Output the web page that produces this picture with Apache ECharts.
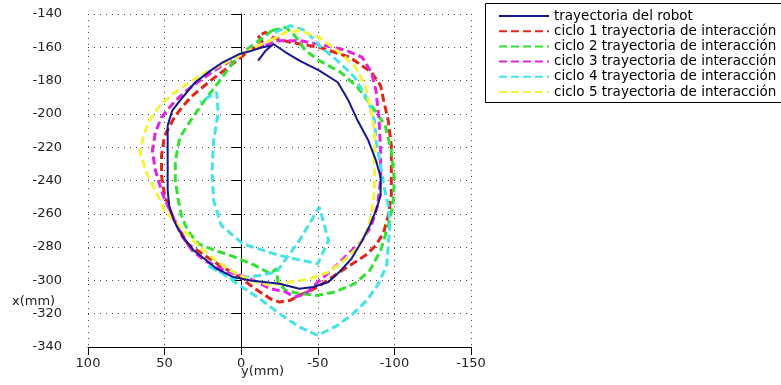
<!DOCTYPE html>
<html>
<head>
<meta charset="utf-8">
<script src="https://cdn.jsdelivr.net/npm/echarts@6/dist/echarts.min.js"></script>
<style>
  html, body { margin: 0; padding: 0; background: #fff; }
  #chart { width: 781px; height: 385px; }
</style>
</head>
<body>
<div id="chart"></div>
<script>
// pares [y(mm), x(mm)]
var robot = [[-11,-168],[-16,-162],[-21,-158],[-29,-163],[-38,-168],[-51,-174],[-63,-181],[-70,-192],
  [-76,-204],[-83,-216],[-88,-228],[-91,-238],[-91,-249],[-88,-258],[-84,-267],[-79,-276],[-72,-287],
  [-64,-295],[-57,-301],[-47,-304],[-38,-305],[-25,-302],[-6,-300],[5,-298],[16,-293],[24,-287],
  [31,-282],[38,-274],[44,-264],[47,-255],[48,-246],[48,-234],[48,-222],[48,-207],[45,-198],[40,-192],
  [30,-181],[20,-174],[12,-169],[1,-164],[-7,-162],[-14,-160],[-20,-159]];
var ciclo1 = [[-14,-157],[-11,-153],[-16,-151],[-20,-154],[-32,-157],[-51,-160],[-71,-166],[-85,-175],
  [-91,-183],[-93,-192],[-96,-204],[-98,-219],[-98,-234],[-98,-249],[-96,-261],[-93,-271],[-88,-279],
  [-81,-285],[-71,-291],[-61,-297],[-50,-304],[-38,-309],[-32,-312],[-25,-313],[-19,-311],[-9,-305],
  [1,-298],[14,-291],[27,-283],[35,-278],[40,-270],[45,-261],[50,-249],[52,-237],[52,-225],[50,-213],
  [43,-201],[33,-190],[20,-180],[7,-171],[-4,-163],[-14,-157]];
var ciclo2 = [[-20,-150],[-29,-148],[-35,-153],[-42,-162],[-51,-168],[-65,-175],[-76,-184],[-85,-195],
  [-94,-207],[-98,-222],[-100,-240],[-99,-255],[-96,-267],[-91,-282],[-84,-294],[-74,-302],[-61,-307],
  [-50,-309],[-38,-308],[-29,-306],[-24,-301],[-23,-293],[-19,-296],[-9,-291],[4,-286],[17,-282],
  [28,-278],[35,-270],[39,-261],[41,-252],[43,-240],[43,-228],[40,-214],[33,-204],[24,-192],[14,-180],
  [3,-166],[-7,-159],[-16,-153],[-20,-150]];
var ciclo3 = [[-16,-159],[-22,-156],[-38,-156],[-55,-159],[-69,-162],[-79,-166],[-85,-175],[-88,-186],
  [-90,-204],[-91,-222],[-91,-240],[-89,-255],[-85,-267],[-79,-276],[-70,-284],[-60,-293],[-50,-301],
  [-42,-308],[-35,-310],[-29,-307],[-19,-305],[-6,-299],[11,-294],[24,-288],[32,-282],[39,-273],
  [45,-261],[51,-249],[56,-234],[58,-222],[56,-211],[52,-202],[43,-192],[33,-184],[24,-178],[14,-172],
  [1,-165],[-9,-160],[-16,-159]];
var ciclo4 = [[-22,-151],[-32,-147],[-42,-150],[-51,-159],[-64,-169],[-74,-178],[-83,-192],[-87,-204],
  [-88,-216],[-91,-231],[-93,-243],[-96,-255],[-97,-267],[-96,-279],[-95,-291],[-89,-303],[-82,-312],
  [-73,-320],[-63,-327],[-50,-333],[-38,-328],[-25,-320],[-12,-311],[1,-303],[12,-296],[22,-291],
  [5,-299],[-12,-297],[-23,-295],[-38,-276],[-51,-256],[-57,-276],[-50,-290],[-25,-285],[-1,-278],
  [13,-267],[18,-252],[19,-234],[18,-216],[15,-199],[16,-187],[27,-193]];
var ciclo5 = [[-19,-156],[-29,-151],[-38,-150],[-51,-154],[-64,-163],[-74,-171],[-81,-183],[-84,-195],
  [-87,-210],[-87,-228],[-87,-246],[-85,-261],[-81,-273],[-74,-282],[-66,-289],[-57,-295],[-45,-299],
  [-32,-301],[-19,-303],[-6,-300],[7,-294],[18,-287],[27,-280],[33,-274],[41,-267],[50,-258],
  [56,-246],[62,-235],[66,-223],[64,-214],[60,-204],[53,-195],[46,-189],[37,-183],[27,-177],[14,-171],
  [1,-165],[-11,-159],[-19,-156]];

var names = ['trayectoria del robot', 'ciclo 1 trayectoria de interacción', 'ciclo 2 trayectoria de interacción',
  'ciclo 3 trayectoria de interacción', 'ciclo 4 trayectoria de interacción', 'ciclo 5 trayectoria de interacción'];
var colors = ['#16168f', '#e0261a', '#35e035', '#e024e0', '#45e3e3', '#f4f43c'];
var paths = [robot, ciclo1, ciclo2, ciclo3, ciclo4, ciclo5];

var series = [];
for (var i = 0; i < paths.length; i++) {
  series.push({
    name: names[i],
    type: 'line',
    data: paths[i],
    symbol: 'none',
    z: i == 0 ? 5 : 2,
    lineStyle: {
      color: colors[i],
      width: i == 0 ? 2 : 3,
      type: i == 0 ? 'solid' : [8, 4]
    },
    itemStyle: { color: colors[i] }
  });
}

var font = 'DejaVu Sans';
var chart = echarts.init(document.getElementById('chart'));
chart.setOption({
  animation: false,
  backgroundColor: '#fff',
  grid: { left: 88, right: 310, top: 14, bottom: 38 },
  xAxis: {
    type: 'value', min: -150, max: 100, interval: 50, inverse: true,
    axisLine: { lineStyle: { color: '#000' } },
    axisTick: { length: 8, lineStyle: { color: '#000' } },
    axisLabel: { color: '#222', fontSize: 13, fontFamily: font, margin: 10 },
    splitLine: { show: true, lineStyle: { color: '#444', type: [1, 5] } }
  },
  yAxis: {
    type: 'value', min: -340, max: -140, interval: 20,
    axisLine: { show: true, lineStyle: { color: '#000' } },
    axisTick: { show: true, length: 10, lineStyle: { color: '#000' } },
    axisLabel: { color: '#222', fontSize: 13, fontFamily: font, margin: 26 },
    splitLine: { show: true, lineStyle: { color: '#444', type: [1, 5] } }
  },
  legend: {
    orient: 'vertical',
    left: 485, top: 3,
    padding: [6, 5, 4, 13],
    itemWidth: 50, itemHeight: 10, itemGap: 1.2,
    itemStyle: { opacity: 0 },
    textStyle: { color: '#000', fontSize: 13.5, fontFamily: font, lineHeight: 14 },
    data: names
  },
  graphic: [
    // caja de la leyenda, cortada por el borde derecho como en la figura
    { type: 'rect', left: 485, top: 3, z: -1, shape: { width: 340, height: 99 },
      style: { fill: '#fff', stroke: '#000', lineWidth: 1 } },
    { type: 'text', left: 12, top: 295, style: { text: 'x(mm)', fill: '#222', font: '13px "DejaVu Sans"' } },
    { type: 'text', left: 241, top: 365, style: { text: 'y(mm)', fill: '#222', font: '13px "DejaVu Sans"' } }
  ],
  series: series
});
</script>
</body>
</html>
